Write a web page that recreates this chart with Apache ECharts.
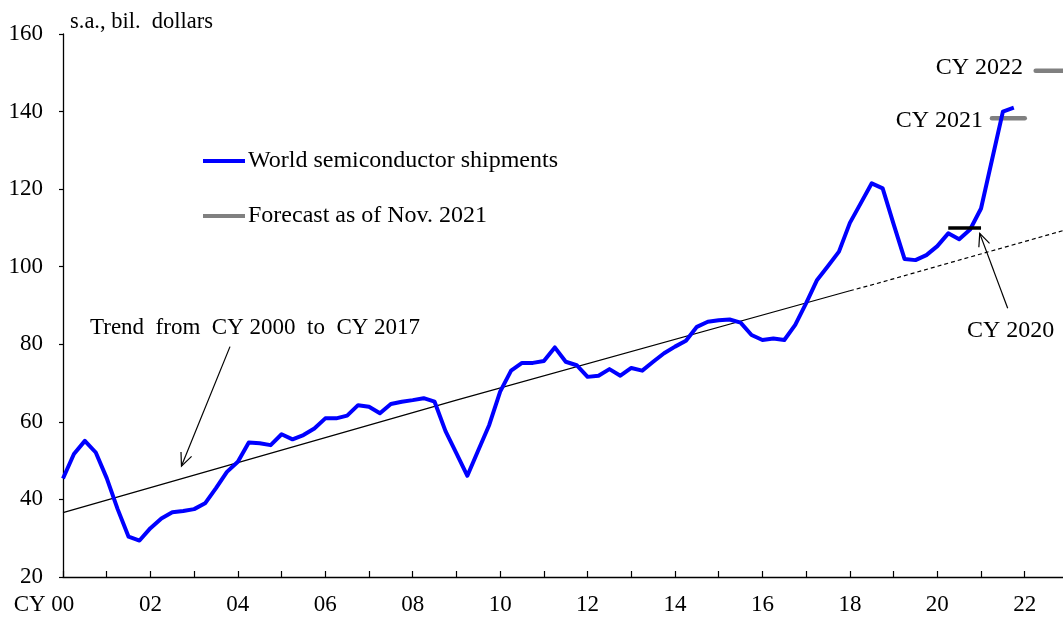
<!DOCTYPE html>
<html><head><meta charset="utf-8">
<script src="https://cdn.jsdelivr.net/npm/echarts@6/dist/echarts.min.js"></script>
<style>html,body{margin:0;padding:0;background:#fff}#c{width:1063px;height:619px}</style>
</head><body><div id="c"></div>
<script>
// World semiconductor shipments, s.a., bil. dollars, quarterly (first point plotted at CY2000 axis start)
const shipmentsFirstYear = 2000.0;
const quarterStep = 0.25;
const shipments = [45.4,51.7,55.1,52.1,45.5,37.5,30.4,29.4,32.6,35.1,
  36.7,37.0,37.5,39.0,42.9,47.1,49.7,54.7,54.5,54.0,
  56.8,55.5,56.6,58.3,60.9,60.9,61.6,64.3,63.9,62.2,
  64.6,65.2,65.6,66.1,65.2,57.6,51.9,46.1,52.7,59.2,
  67.8,73.2,75.2,75.2,75.7,79.2,75.5,74.6,71.6,71.9,
  73.6,71.9,73.9,73.2,75.5,77.7,79.4,80.9,84.5,85.8,
  86.2,86.4,85.6,82.4,81.1,81.5,81.1,85.0,90.6,96.6,
  100.2,103.9,111.3,116.4,121.5,120.2,111.0,102.0,101.7,103.0,
  105.3,108.6,107.1,109.6,115.0,127.5,140.0,141.0];

// Annual levels (quarterly average), drawn as horizontal segments
const cy2020Actual = [[2020.25, 110.0], [2021.0, 110.0]];
const cy2021Forecast = [[2021.25, 138.3], [2022.0, 138.3]];
const cy2022Forecast = [[2022.25, 150.5], [2023.0, 150.5]];

// Trend from CY2000 to CY2017 (solid in-sample, dashed extrapolation)
const trendSolid = [[2000, 36.6], [2009, 65.6], [2018, 93.8]];
const trendDashed = [[2018, 93.8], [2018.5, 95.3], [2023, 109.7]];

// Annotation arrows [fromX, fromY, toX, toY]
const arrows = [[2003.82, 79.4, 2002.71, 48.6], [2021.61, 89.3, 2020.97, 108.6]];

// Axis ticks and labels
const xTickValues = [2000,2001,2002,2003,2004,2005,2006,2007,2008,2009,2010,2011,
                     2012,2013,2014,2015,2016,2017,2018,2019,2020,2021,2022];
const xLabelValues = [2000,2002,2004,2006,2008,2010,2012,2014,2016,2018,2020,2022];
const xLabelTexts = ['CY 00','02','04','06','08','10','12','14','16','18','20','22'];
const xRange = {min: 2000, max: 2022.875};
const yTicks = {min: 20, max: 160, step: 20};

const FONT = "'Liberation Serif', 'Times New Roman', serif";
const shipmentsData = shipments.map((v, i) => [shipmentsFirstYear + i * quarterStep, v]);

const chart = echarts.init(document.getElementById('c'), null, {renderer: 'canvas'});
chart.setOption({
  animation: false,
  backgroundColor: '#fff',
  grid: {left: 63, right: 0, top: 34, bottom: 42, containLabel: false},
  legend: {
    orient: 'vertical', left: 203, top: 149, padding: 0, itemWidth: 42, itemHeight: 4, itemGap: 31,
    icon: 'rect',
    textStyle: {fontFamily: FONT, fontSize: 24, lineHeight: 24, color: '#000', padding: [0, 0, 0, -2]},
    data: ['World semiconductor shipments', 'Forecast as of Nov. 2021']
  },
  xAxis: {
    type: 'value', min: xRange.min, max: xRange.max,
    axisLine: {show: true, onZero: false, lineStyle: {color: '#000', width: 1.3}},
    axisTick: {show: true, inside: true, length: 6, customValues: xTickValues,
               lineStyle: {color: '#000', width: 1.2}},
    splitLine: {show: false},
    axisLabel: {
      margin: 16, fontFamily: FONT, fontSize: 23, color: '#000',
      customValues: xLabelValues,
      formatter: function (v) {
        const idx = xLabelValues.indexOf(Math.round(v));
        if (idx < 0) return '';
        return idx === 0 ? '{cy|' + xLabelTexts[idx] + '}' : xLabelTexts[idx];
      },
      rich: {cy: {fontFamily: FONT, fontSize: 23, color: '#000', padding: [0, 38, 0, 0]}}
    }
  },
  yAxis: {
    type: 'value', min: yTicks.min, max: yTicks.max, interval: yTicks.step,
    axisLine: {show: true, onZero: false, lineStyle: {color: '#000', width: 1.3}},
    axisTick: {show: true, inside: false, length: 4, lineStyle: {color: '#000', width: 1.2}},
    splitLine: {show: false},
    axisLabel: {margin: 20, fontFamily: FONT, fontSize: 23, color: '#000'}
  },
  graphic: [
    {type: 'text', x: 70, y: 22, style: {text: 's.a., bil.  dollars', font: '22.5px ' + FONT, fill: '#000', verticalAlign: 'middle'}},
    {type: 'text', x: 90, y: 328, style: {text: 'Trend  from  CY 2000  to  CY 2017', font: '23px ' + FONT, fill: '#000', verticalAlign: 'middle'}},
    {type: 'text', x: 967, y: 331, style: {text: 'CY 2020', font: '24px ' + FONT, fill: '#000', verticalAlign: 'middle'}},
    {type: 'text', x: 983, y: 121, style: {text: 'CY 2021', font: '24px ' + FONT, fill: '#000', align: 'right', verticalAlign: 'middle'}},
    {type: 'text', x: 1023, y: 68, style: {text: 'CY 2022', font: '24px ' + FONT, fill: '#000', align: 'right', verticalAlign: 'middle'}}
  ],
  series: [
    {name: 'trend', type: 'line', data: trendSolid, symbol: 'none', silent: true, z: 1,
     lineStyle: {color: '#000', width: 1.2}},
    {name: 'trend-ext', type: 'line', data: trendDashed, symbol: 'none', silent: true, z: 1,
     lineStyle: {color: '#000', width: 1.2, type: [4, 3]}},
    {name: 'Forecast as of Nov. 2021', type: 'line', data: cy2021Forecast, symbol: 'none', z: 2,
     itemStyle: {color: '#808080'}, lineStyle: {color: '#808080', width: 4.5, cap: 'round'}},
    {name: 'Forecast as of Nov. 2021', type: 'line', data: cy2022Forecast, symbol: 'none', z: 2,
     itemStyle: {color: '#808080'}, lineStyle: {color: '#808080', width: 4.5, cap: 'round'}},
    {name: 'World semiconductor shipments', type: 'line', data: shipmentsData, symbol: 'none', z: 3,
     itemStyle: {color: '#0000ff'}, lineStyle: {color: '#0000ff', width: 4, join: 'round'}},
    {name: 'CY2020', type: 'line', data: cy2020Actual, symbol: 'none', z: 4,
     lineStyle: {color: '#000', width: 3.5, cap: 'butt'}},
    {name: 'arrows', type: 'custom', z: 5, silent: true,
     data: arrows, encode: {x: [0, 2], y: [1, 3]},
     renderItem: function (params, api) {
       const p0 = api.coord([api.value(0), api.value(1)]);
       const p1 = api.coord([api.value(2), api.value(3)]);
       const ang = Math.atan2(p0[1] - p1[1], p0[0] - p1[0]);
       const L = 14, a = 0.42;
       const w1 = [p1[0] + L * Math.cos(ang + a), p1[1] + L * Math.sin(ang + a)];
       const w2 = [p1[0] + L * Math.cos(ang - a), p1[1] + L * Math.sin(ang - a)];
       const st = {stroke: '#000', lineWidth: 1.2, fill: null};
       return {type: 'group', children: [
         {type: 'line', shape: {x1: p0[0], y1: p0[1], x2: p1[0], y2: p1[1]}, style: st},
         {type: 'polyline', shape: {points: [w1, p1, w2]}, style: st}
       ]};
     }}
  ]
});
</script></body></html>
